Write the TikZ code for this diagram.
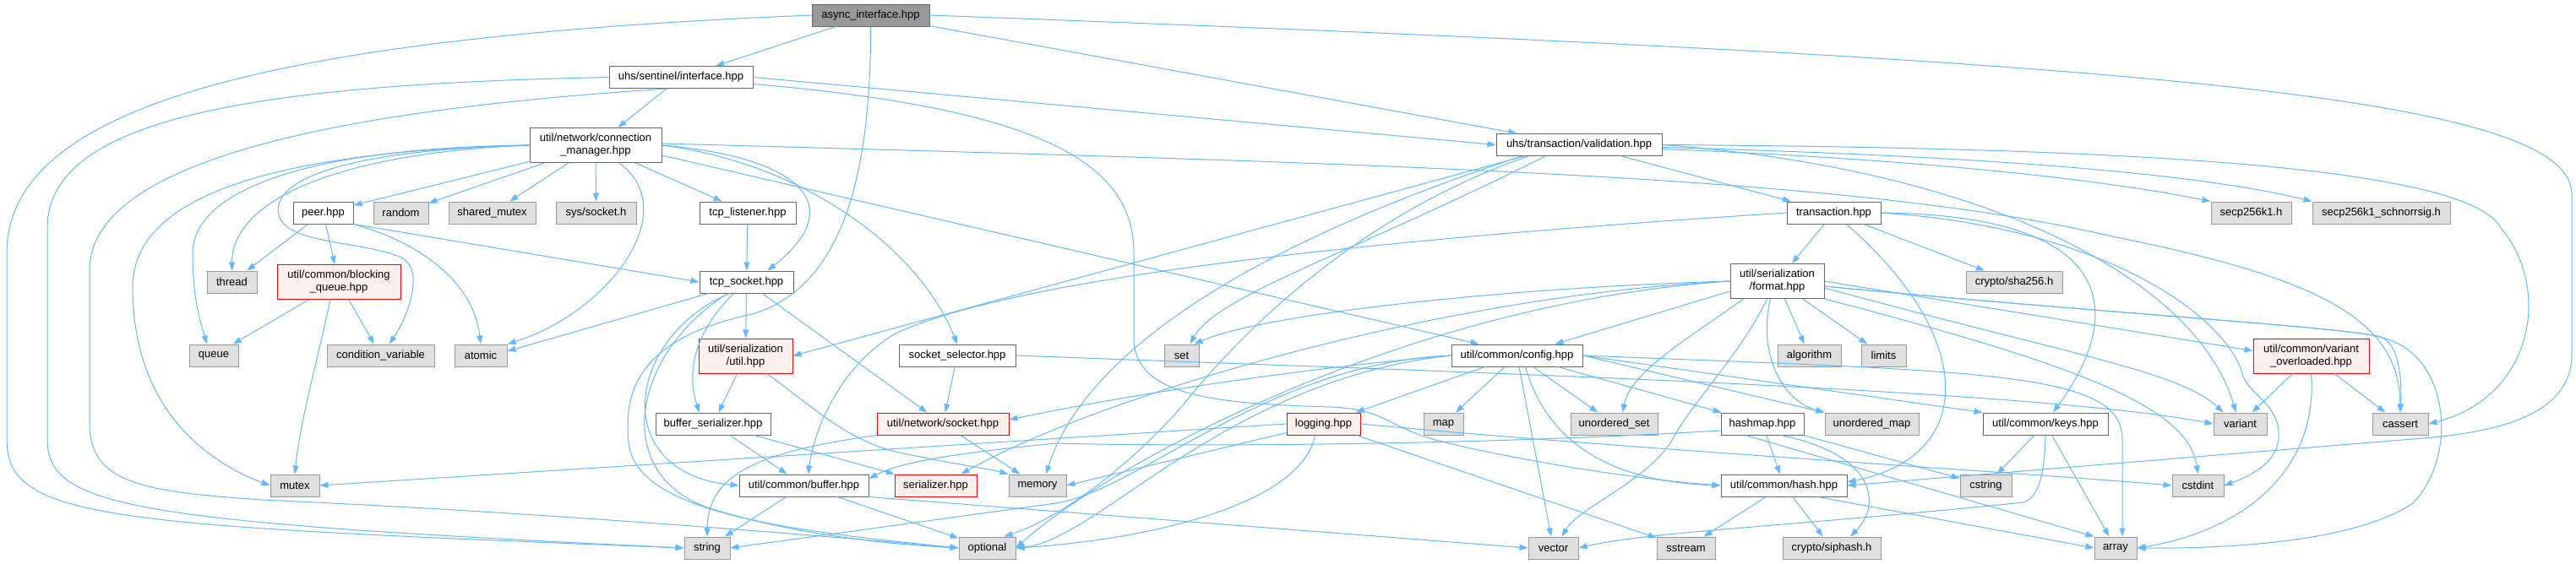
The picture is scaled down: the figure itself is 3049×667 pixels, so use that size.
\documentclass[tikz,border=0pt]{standalone}
\usepackage{fontspec}
\setmainfont{Liberation Sans}
\usetikzlibrary{arrows.meta}
\definecolor{edgeblue}{HTML}{63B8FF}
\definecolor{frame}{HTML}{666666}
\definecolor{sysframe}{HTML}{999999}
\definecolor{sysfill}{HTML}{E0E0E0}
\definecolor{redfill}{HTML}{FFF0F0}
\begin{document}
\begin{tikzpicture}[x=1pt,y=-1pt,font=\fontsize{13}{15}\selectfont,
  box/.style={draw,line width=1pt,inner sep=0pt,minimum height=26pt,align=center},
  w/.style={minimum width=#1pt},
  tall/.style={minimum height=41pt},
  hdrfile/.style={box,fill=sysframe,draw=frame},
  srcfile/.style={box,fill=white,draw=frame},
  sysfile/.style={box,fill=sysfill,draw=sysframe},
  redfile/.style={box,fill=redfill,draw=red},
  dep/.style={draw=edgeblue,line width=1pt,-{Triangle[length=10pt,width=7pt]}}]
  \fill[white] (0,0) rectangle (3049,667);
  \useasboundingbox (0,0) rectangle (3049,667);

  \node[hdrfile,w=139] (async) at (1030.5,18) {async\_interface.hpp};
  \node[srcfile,w=170] (sentinel) at (806,91.5) {uhs/sentinel/interface.hpp};
  \node[srcfile,w=156,tall] (conn) at (705,172) {util/network/connection\\\_manager.hpp};
  \node[srcfile,w=196] (validation) at (1869,171.5) {uhs/transaction/validation.hpp};

  \node[srcfile,w=71] (peer) at (382.5,252) {peer.hpp};
  \node[sysfile,w=65] (random) at (474.5,252) {random};
  \node[sysfile,w=103] (shmutex) at (582.5,252) {shared\_mutex};
  \node[sysfile,w=95] (syssocket) at (705.5,252) {sys/socket.h};
  \node[srcfile,w=114] (listener) at (885,252) {tcp\_listener.hpp};
  \node[srcfile,w=111] (transaction) at (2170.5,252) {transaction.hpp};
  \node[sysfile,w=95] (secp) at (2664.5,252) {secp256k1.h};
  \node[sysfile,w=163] (schnorr) at (2818.5,252) {secp256k1\_schnorrsig.h};

  \node[sysfile,w=59] (thread) at (274.5,334) {thread};
  \node[redfile,w=146,tall] (bqueue) at (401,334) {util/common/blocking\\\_queue.hpp};
  \node[srcfile,w=111] (tcpsocket) at (883.5,334) {tcp\_socket.hpp};
  \node[srcfile,w=111,tall] (format) at (2103.5,333) {util/serialization\\/format.hpp};
  \node[sysfile,w=114] (sha) at (2384,334) {crypto/sha256.h};

  \node[sysfile,w=58] (queue) at (253,421) {queue};
  \node[sysfile,w=127] (condvar) at (450.5,421) {condition\_variable};
  \node[sysfile,w=62] (atomic) at (569,421) {atomic};
  \node[redfile,w=111,tall] (serutil) at (882.5,421.5) {util/serialization\\/util.hpp};
  \node[srcfile,w=138] (selector) at (1133,421) {socket\_selector.hpp};
  \node[sysfile,w=41] (set) at (1398.5,421) {set};
  \node[srcfile,w=155] (config) at (1795.5,421) {util/common/config.hpp};
  \node[sysfile,w=75] (algorithm) at (2141.5,421) {algorithm};
  \node[sysfile,w=53] (limits) at (2229.5,421) {limits};
  \node[redfile,w=137,tall] (overloaded) at (2735.5,421.5) {util/common/variant\\\_overloaded.hpp};

  \node[srcfile,w=136] (bufser) at (844,502) {buffer\_serializer.hpp};
  \node[redfile,w=156] (netsocket) at (1116,502) {util/network/socket.hpp};
  \node[redfile,w=87] (logging) at (1566.5,502) {logging.hpp};
  \node[sysfile,w=47] (map) at (1708.5,502) {map};
  \node[sysfile,w=103] (uset) at (1910.5,502) {unordered\_set};
  \node[srcfile,w=98] (hashmap) at (2086,502) {hashmap.hpp};
  \node[sysfile,w=111] (umap) at (2215.5,502) {unordered\_map};
  \node[srcfile,w=148] (keys) at (2421,502) {util/common/keys.hpp};
  \node[sysfile,w=63] (variant) at (2651.5,502) {variant};
  \node[sysfile,w=66] (cassert) at (2841,502) {cassert};

  \node[sysfile,w=58] (mutex) at (349,575) {mutex};
  \node[srcfile,w=153] (buffer) at (951.5,575) {util/common/buffer.hpp};
  \node[redfile,w=97] (serializer) at (1107.5,575) {serializer.hpp};
  \node[sysfile,w=68] (memory) at (1228,575) {memory};
  \node[srcfile,w=149] (hash) at (2111.5,575) {util/common/hash.hpp};
  \node[sysfile,w=61] (cstring) at (2350.5,575) {cstring};
  \node[sysfile,w=61] (cstdint) at (2601.5,575) {cstdint};

  \node[sysfile,w=54] (string) at (837,649) {string};
  \node[sysfile,w=67] (optional) at (1168.5,649) {optional};
  \node[sysfile,w=59] (vector) at (1838.5,649) {vector};
  \node[sysfile,w=69] (sstream) at (1995.5,649) {sstream};
  \node[sysfile,w=116] (siphash) at (2168,649) {crypto/siphash.h};
  \node[sysfile,w=50] (array) at (2504,649) {array};

  % async_interface.hpp
  \draw[dep] (async) -- (sentinel);
  \draw[dep] (async) -- (validation);
  \draw[dep] (async.west) .. controls (300,45) and (8,130) .. (8,300) -- (8,520)
    .. controls (8,615) and (120,622) .. (string.west);
  \draw[dep] (async.south) .. controls (1031,200) and (1000,340) .. (890,372)
    .. controls (760,400) and (735,460) .. (745,530)
    .. controls (760,610) and (950,630) .. (optional.west);
  \draw[dep] (async.east) .. controls (2500,70) and (3044,110) .. (3044,230) -- (3044,420)
    .. controls (3044,490) and (2960,510) .. (2880,518) -- (hash.east);

  % sentinel/interface.hpp
  \draw[dep] (sentinel) -- (conn);
  \draw[dep] (sentinel.east) -- (validation.west);
  \draw[dep] (sentinel.west) .. controls (300,100) and (56,140) .. (56,270) -- (56,520)
    .. controls (56,600) and (150,618) .. (string.west);
  \draw[dep] ([xshift=-15pt]sentinel.south) .. controls (400,130) and (106,190) .. (106,320)
    -- (106,500) .. controls (106,570) and (160,582) .. (310,592)
    .. controls (600,605) and (900,628) .. (optional.west);
  \draw[dep] ([yshift=-8pt]sentinel.east) .. controls (1250,130) and (1342,200) .. (1342,300)
    -- (1342,400) .. controls (1342,470) and (1440,478) .. (1575,482)
    .. controls (1630,484) and (1640,500) .. (1680,515)
    .. controls (1720,530) and (1900,565) .. (hash.west);

  % connection_manager.hpp
  \draw[dep] (conn) -- (peer);
  \draw[dep] (conn) -- (random);
  \draw[dep] (conn) -- (shmutex);
  \draw[dep] (conn) -- (syssocket);
  \draw[dep] (conn) -- (listener);
  \draw[dep] (conn.west) .. controls (420,180) and (275,230) .. (thread.north);
  \draw[dep] (conn.west) .. controls (350,175) and (228,230) .. (228,300)
    .. controls (228,360) and (240,390) .. ([xshift=-8pt]queue.north);
  \draw[dep] (conn.west) .. controls (300,180) and (157,240) .. (157,340)
    .. controls (157,480) and (240,545) .. (mutex.west);
  \draw[dep] (conn.west) .. controls (400,178) and (320,215) .. (330,255)
    .. controls (340,290) and (430,285) .. (475,305)
    .. controls (505,320) and (480,380) .. ([xshift=10pt]condvar.north);
  \draw[dep] ([xshift=28pt]conn.south) .. controls (810,250) and (720,370) .. (atomic.north east);
  \draw[dep] (conn.east) .. controls (940,185) and (1010,240) .. ([xshift=25pt]tcpsocket.north);
  \draw[dep] (conn.east) .. controls (960,195) and (1090,300) .. (selector.north);
  \draw[dep] ([yshift=-12pt]conn.east) -- ([xshift=-45pt]config.north);
  \draw[dep] ([yshift=2pt]conn.east) .. controls (1700,195) and (2200,210) .. (2500,280)
    .. controls (2750,330) and (2840,380) .. (cassert.north);

  % peer.hpp
  \draw[dep] (peer) -- (thread);
  \draw[dep] (peer) -- (bqueue);
  \draw[dep] (peer.south east) .. controls (490,285) and (560,330) .. (atomic.north);
  \draw[dep] (peer.south east) -- (tcpsocket.west);

  % blocking_queue.hpp
  \draw[dep] (bqueue) -- (queue);
  \draw[dep] (bqueue) -- (condvar);
  \draw[dep] ([xshift=-10pt]bqueue.south) .. controls (375,430) and (355,500) .. (mutex.north);

  \draw[dep] (listener) -- (tcpsocket);

  % tcp_socket.hpp
  \draw[dep] ([xshift=-45pt]tcpsocket.south) -- ([yshift=5pt]atomic.east);
  \draw[dep] (tcpsocket) -- (serutil);
  \draw[dep] (tcpsocket) -- (netsocket);
  \draw[dep] ([xshift=-15pt]tcpsocket.south) .. controls (815,400) and (815,450) .. ([xshift=-16pt]bufser.north);
  \draw[dep] ([xshift=-20pt]tcpsocket.south) .. controls (740,400) and (720,560) .. (buffer.west);
  \draw[dep] ([xshift=-22pt]tcpsocket.south) .. controls (745,420) and (720,570) .. (850,605)
    .. controls (950,635) and (1060,645) .. (optional.west);

  \draw[dep] (serutil) -- (bufser);
  \draw[dep] ([xshift=25pt]serutil.south) .. controls (960,480) and (1000,520) .. (1060,535)
    .. controls (1130,550) and (1170,555) .. (memory.north west);
  \draw[dep] (selector) -- (netsocket);
  \draw[dep] (selector.east) .. controls (1700,440) and (2400,460) .. (variant.west);
  \draw[dep] (bufser) -- (buffer);
  \draw[dep] (bufser) -- (serializer);
  \draw[dep] (netsocket) -- (memory);
  \draw[dep] (netsocket.south west) .. controls (900,535) and (838,560) .. (string.north);
  \draw[dep] (buffer) -- (string);
  \draw[dep] (buffer) -- (optional);
  \draw[dep] (buffer.south east) -- (vector.west);

  % logging.hpp
  \draw[dep] (logging.west) -- (mutex.east);
  \draw[dep] (logging) -- (memory.east);
  \draw[dep] ([xshift=-10pt]logging.south) .. controls (1540,600) and (1350,640) .. (optional.east);
  \draw[dep] (logging) -- (sstream);
  \draw[dep] (logging.east) .. controls (1900,530) and (2400,560) .. (cstdint.west);

  % validation.hpp
  \draw[dep] (validation) -- (transaction);
  \draw[dep] ([yshift=-5pt]validation.east) .. controls (2300,190) and (2500,215) .. (secp.north west);
  \draw[dep] ([yshift=-3pt]validation.east) .. controls (2350,185) and (2600,205) .. (schnorr.north west);
  \draw[dep] (validation.east) .. controls (2500,175) and (2920,195) .. (2960,270)
    .. controls (3020,340) and (3000,470) .. (cassert.east);
  \draw[dep] (validation.east) .. controls (2350,200) and (2600,330) .. ([xshift=-5pt]variant.north);
  \draw[dep] ([xshift=-65pt]validation.south) -- (serutil.east);
  \draw[dep] ([xshift=-68pt]validation.south) .. controls (1450,300) and (1280,430) .. ([xshift=10pt]memory.north);
  \draw[dep] ([xshift=-40pt]validation.south) .. controls (1600,300) and (1440,350) .. ([xshift=10pt]set.north);
  \draw[dep] ([xshift=-60pt]validation.south) .. controls (1620,250) and (1480,380) .. (1400,480)
    .. controls (1330,560) and (1250,615) .. ([xshift=20pt]optional.north);

  % transaction.hpp
  \draw[dep] (transaction) -- (format);
  \draw[dep] (transaction) -- (sha);
  \draw[dep] (transaction.east) .. controls (2520,255) and (2510,380) .. ([xshift=9pt]keys.north);
  \draw[dep] ([xshift=15pt]transaction.south) .. controls (2340,400) and (2340,540) .. ([yshift=4pt]hash.east);
  \draw[dep] (transaction.east) .. controls (2500,270) and (2640,380) .. (2655,446)
    .. controls (2665,470) and (2700,480) .. (2697,520)
    .. controls (2694,550) and (2660,565) .. (cstdint.east);
  \draw[dep] (transaction.west) .. controls (1600,285) and (1200,330) .. (1060,395)
    .. controls (1000,430) and (965,500) .. ([xshift=5pt]buffer.north);

  % format.hpp
  \draw[dep] (format.west) .. controls (1800,340) and (1500,370) .. ([xshift=15pt]set.north);
  \draw[dep] ([yshift=-12pt]format.west) -- ([xshift=45pt]config.north);
  \draw[dep] (format.west) .. controls (1700,350) and (1300,470) .. ([xshift=30pt]serializer.north);
  \draw[dep] (format.west) .. controls (1650,360) and (1300,560) .. (optional.east);
  \draw[dep] ([xshift=-40pt]format.south) .. controls (2000,400) and (1930,440) .. ([xshift=10pt]uset.north);
  \draw[dep] ([xshift=-12pt]format.south) .. controls (2060,420) and (2000,480) .. (1980,520)
    .. controls (1950,570) and (1870,600) .. ([xshift=10pt]vector.north);
  \draw[dep] ([xshift=-8pt]format.south) .. controls (2080,420) and (2110,475) .. (umap.north west);
  \draw[dep] (format) -- (algorithm);
  \draw[dep] (format) -- (limits);
  \draw[dep] (format.east) -- ([yshift=6pt]overloaded.west);
  \draw[dep] ([yshift=-6pt]format.east) .. controls (2500,372) and (2790,388) .. (2820,400)
    .. controls (2840,410) and (2843,450) .. (cassert.north);
  \draw[dep] ([yshift=-8pt]format.east) .. controls (2450,420) and (2580,440) .. ([xshift=-20pt]variant.north);
  \draw[dep] (format.south east) .. controls (2450,430) and (2590,480) .. (cstdint.north);
  \draw[dep] ([yshift=-6pt]format.east) .. controls (2500,372) and (2790,388) .. (2820,400)
    .. controls (2900,420) and (2910,540) .. (2856,596)
    .. controls (2790,640) and (2650,650) .. (array.east);

  % config.hpp
  \draw[dep] (config.west) .. controls (1500,440) and (1300,475) .. ([yshift=5pt]netsocket.east);
  \draw[dep] (config) -- (logging);
  \draw[dep] (config) -- (map);
  \draw[dep] (config) -- (uset);
  \draw[dep] (config) -- (hashmap);
  \draw[dep] (config) -- (vector);
  \draw[dep] ([xshift=10pt]config.south) .. controls (1830,520) and (1900,570) .. (hash.west);
  \draw[dep] (config.east) -- (umap.north west);
  \draw[dep] (config.east) -- (keys.north west);
  \draw[dep] (config.east) .. controls (2350,440) and (2512,440) .. (2512,520) -- ([xshift=8pt]array.north);
  \draw[dep] (config.west) .. controls (1450,450) and (1300,640) .. (optional.east);
  \draw[dep] (config.west) .. controls (1500,430) and (1350,580) .. (1250,596) -- (string.east);

  % hashmap.hpp, keys.hpp, hash.hpp
  \draw[dep] (hashmap) -- (hash);
  \draw[dep] (hashmap) -- (cstring);
  \draw[dep] ([xshift=-20pt]hashmap.south) -- (array.north west);
  \draw[dep] ([xshift=22pt]hashmap.south) .. controls (2225,540) and (2225,600) .. ([xshift=22pt]siphash.north);
  \draw[dep] ([yshift=-8pt]hashmap.west) .. controls (1700,530) and (1350,528) .. (1250,525)
    .. controls (1150,535) and (1070,545) .. ([yshift=8pt]buffer.east);
  \draw[dep] (keys) -- (cstring);
  \draw[dep] (keys) -- (array);
  \draw[dep] (keys.south) .. controls (2420,570) and (2410,590) .. (2395,595)
    .. controls (2100,625) and (1950,630) .. (vector.east);
  \draw[dep] (hash) -- (sstream);
  \draw[dep] (hash) -- (siphash);
  \draw[dep] ([xshift=40pt]hash.south) -- (array.west);

  % variant_overloaded.hpp
  \draw[dep] (overloaded) -- (variant);
  \draw[dep] (overloaded) -- (cassert);
  \draw[dep] (overloaded.south) .. controls (2745,560) and (2650,630) .. (array.east);
\end{tikzpicture}
\end{document}
